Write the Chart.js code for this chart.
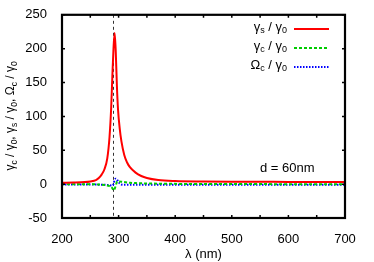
<!DOCTYPE html>
<html><head><meta charset="utf-8">
<script src="https://cdn.jsdelivr.net/npm/chart.js@4"></script>
<style>html,body{margin:0;padding:0;background:#fff}#wrap{width:374px;height:262px}</style>
</head><body><div id="wrap"><canvas id="c" width="374" height="262"></canvas></div>
<script>
const wavelength = [200,220,240,250,260,265,270,275,280,284,287,289,291,293,295,297,299,302,305,310,315,320,330,340,350,370,400,450,500,600,700];
const gammaS = [2,2.3,3,4,6,9,14,22,38,70,115,160,200,223,195,145,110,82,63,43,32,25,17,12,9,6,4.5,3.8,3.5,3.3,3.2];
const gammaC = [0,0,0,0,-0.3,-0.5,-0.8,-1.2,-2,-3,-4,-6,-9,-7,-2,3,4,4,3.5,3,2.5,2,1.5,1.2,1,0.7,0.4,0.2,0.1,0,0];
const omegaC = [-0.5,-0.5,-0.6,-0.6,-0.7,-0.8,-0.9,-1,-1.2,-1.5,-2,-2,0,6,8,7,4,1,-0.5,-1,-1,-1,-1,-1,-1,-1,-1,-1,-1,-1,-1];
const xTicks = [200,300,400,500,600,700];
const yTicks = [-50,0,50,100,150,200,250];
const markerLambda = 290.7;

const FONT = "'Liberation Sans', Arial, sans-serif";
function pts(ys){ return wavelength.map((x,i)=>({x:x,y:ys[i]})); }

function richWidth(ctx, parts, base, sub){
  let w=0;
  for(const p of parts){ ctx.font = (p.s?sub:base)+'px '+FONT; w+=ctx.measureText(p.t).width; }
  return w;
}
function drawRich(ctx, parts, x, y, base, sub){
  let cx=x;
  for(const p of parts){
    ctx.font=(p.s?sub:base)+'px '+FONT;
    ctx.fillText(p.t, cx, p.s? y+base*0.3 : y);
    cx+=ctx.measureText(p.t).width;
  }
}
const T = (t)=>({t:t,s:false}), S=(t)=>({t:t,s:true});
const legendItems = [
  {parts:[T('γ'),S('s'),T(' / γ'),S('0')], color:'#ff0000', dash:[]},
  {parts:[T('γ'),S('c'),T(' / γ'),S('0')], color:'#00cc00', dash:[3,2]},
  {parts:[T('Ω'),S('c'),T(' / γ'),S('0')], color:'#0000ff', dash:[1.5,1.5]}
];
const yTitle = [T('γ'),S('c'),T(' / γ'),S('0'),T(', γ'),S('s'),T(' / γ'),S('0'),T(', Ω'),S('c'),T(' / γ'),S('0')];

const deco = {
  id:'deco',
  beforeDatasetsDraw(chart){
    const {ctx, chartArea:a, scales:{x,y}} = chart;
    ctx.save();
    ctx.strokeStyle='#333'; ctx.lineWidth=1; ctx.setLineDash([3,3]);
    const px = Math.round(x.getPixelForValue(markerLambda))+0.5;
    ctx.beginPath(); ctx.moveTo(px,a.top); ctx.lineTo(px,a.bottom); ctx.stroke();
    ctx.restore();
  },
  afterDraw(chart){
    const {ctx, chartArea:a, scales:{x,y}} = chart;
    ctx.save();
    // ticks inside
    ctx.strokeStyle='#000'; ctx.lineWidth=1.5; ctx.setLineDash([]);
    for(let v=200; v<=700; v+=50){
      const px=x.getPixelForValue(v);
      ctx.beginPath(); ctx.moveTo(px,a.bottom); ctx.lineTo(px,a.bottom-3);
      ctx.moveTo(px,a.top); ctx.lineTo(px,a.top+3); ctx.stroke();
    }
    for(const v of yTicks){
      const py=y.getPixelForValue(v);
      ctx.beginPath(); ctx.moveTo(a.left,py); ctx.lineTo(a.left+3,py);
      ctx.moveTo(a.right,py); ctx.lineTo(a.right-3,py); ctx.stroke();
    }
    // frame
    ctx.lineWidth=2.2;
    ctx.strokeRect(a.left,a.top,a.right-a.left,a.bottom-a.top);
    // legend
    ctx.fillStyle='#000'; ctx.textBaseline='middle';
    const rows=[29,48,67];
    legendItems.forEach((it,i)=>{
      const w=richWidth(ctx,it.parts,13,9);
      drawRich(ctx,it.parts,287-w,rows[i]-2,13,9);
      ctx.strokeStyle=it.color; ctx.lineWidth=2; ctx.setLineDash(it.dash);
      ctx.beginPath(); ctx.moveTo(294,rows[i]); ctx.lineTo(329,rows[i]); ctx.stroke();
    });
    ctx.setLineDash([]);
    // annotation
    ctx.fillStyle='#000'; ctx.font='13px '+FONT; ctx.textAlign='left';
    ctx.fillText('d = 60nm', 260, 168);
    // y title
    ctx.save();
    ctx.translate(13,116); ctx.rotate(-Math.PI/2);
    const tw=richWidth(ctx,yTitle,12,8.5);
    drawRich(ctx,yTitle,-tw/2,-2,12,8.5);
    ctx.restore();
    ctx.restore();
  }
};

new Chart(document.getElementById('c'),{
  type:'line',
  data:{datasets:[
    {label:'γs / γ0', data:pts(gammaS), borderColor:'#ff0000', borderWidth:2, pointRadius:0, cubicInterpolationMode:'monotone'},
    {label:'γc / γ0', data:pts(gammaC), borderColor:'#00cc00', borderWidth:2, borderDash:[3,2], pointRadius:0, cubicInterpolationMode:'monotone'},
    {label:'Ωc / γ0', data:pts(omegaC), borderColor:'#0000ff', borderWidth:2, borderDash:[1.5,1.5], pointRadius:0, cubicInterpolationMode:'monotone'}
  ]},
  options:{
    responsive:false, animation:false, events:[],
    layout:{padding:{top:14,right:29,left:0,bottom:0}},
    plugins:{legend:{display:false},tooltip:{enabled:false}},
    scales:{
      x:{type:'linear',min:200,max:700,
        afterBuildTicks(s){ s.ticks = xTicks.map(v=>({value:v})); },
        afterFit(s){ s.height=44; },
        grid:{display:false}, border:{display:false},
        ticks:{color:'#000',font:{family:FONT,size:13},padding:6,maxRotation:0},
        title:{display:true,text:'λ (nm)',color:'#000',font:{family:FONT,size:13},padding:{top:2,bottom:0}}
      },
      y:{type:'linear',min:-50,max:250,
        afterBuildTicks(s){ s.ticks = yTicks.map(v=>({value:v})); },
        afterFit(s){ s.width=62; },
        grid:{display:false}, border:{display:false},
        ticks:{color:'#000',font:{family:FONT,size:13},padding:7}
      }
    }
  },
  plugins:[deco]
});
</script></body></html>
